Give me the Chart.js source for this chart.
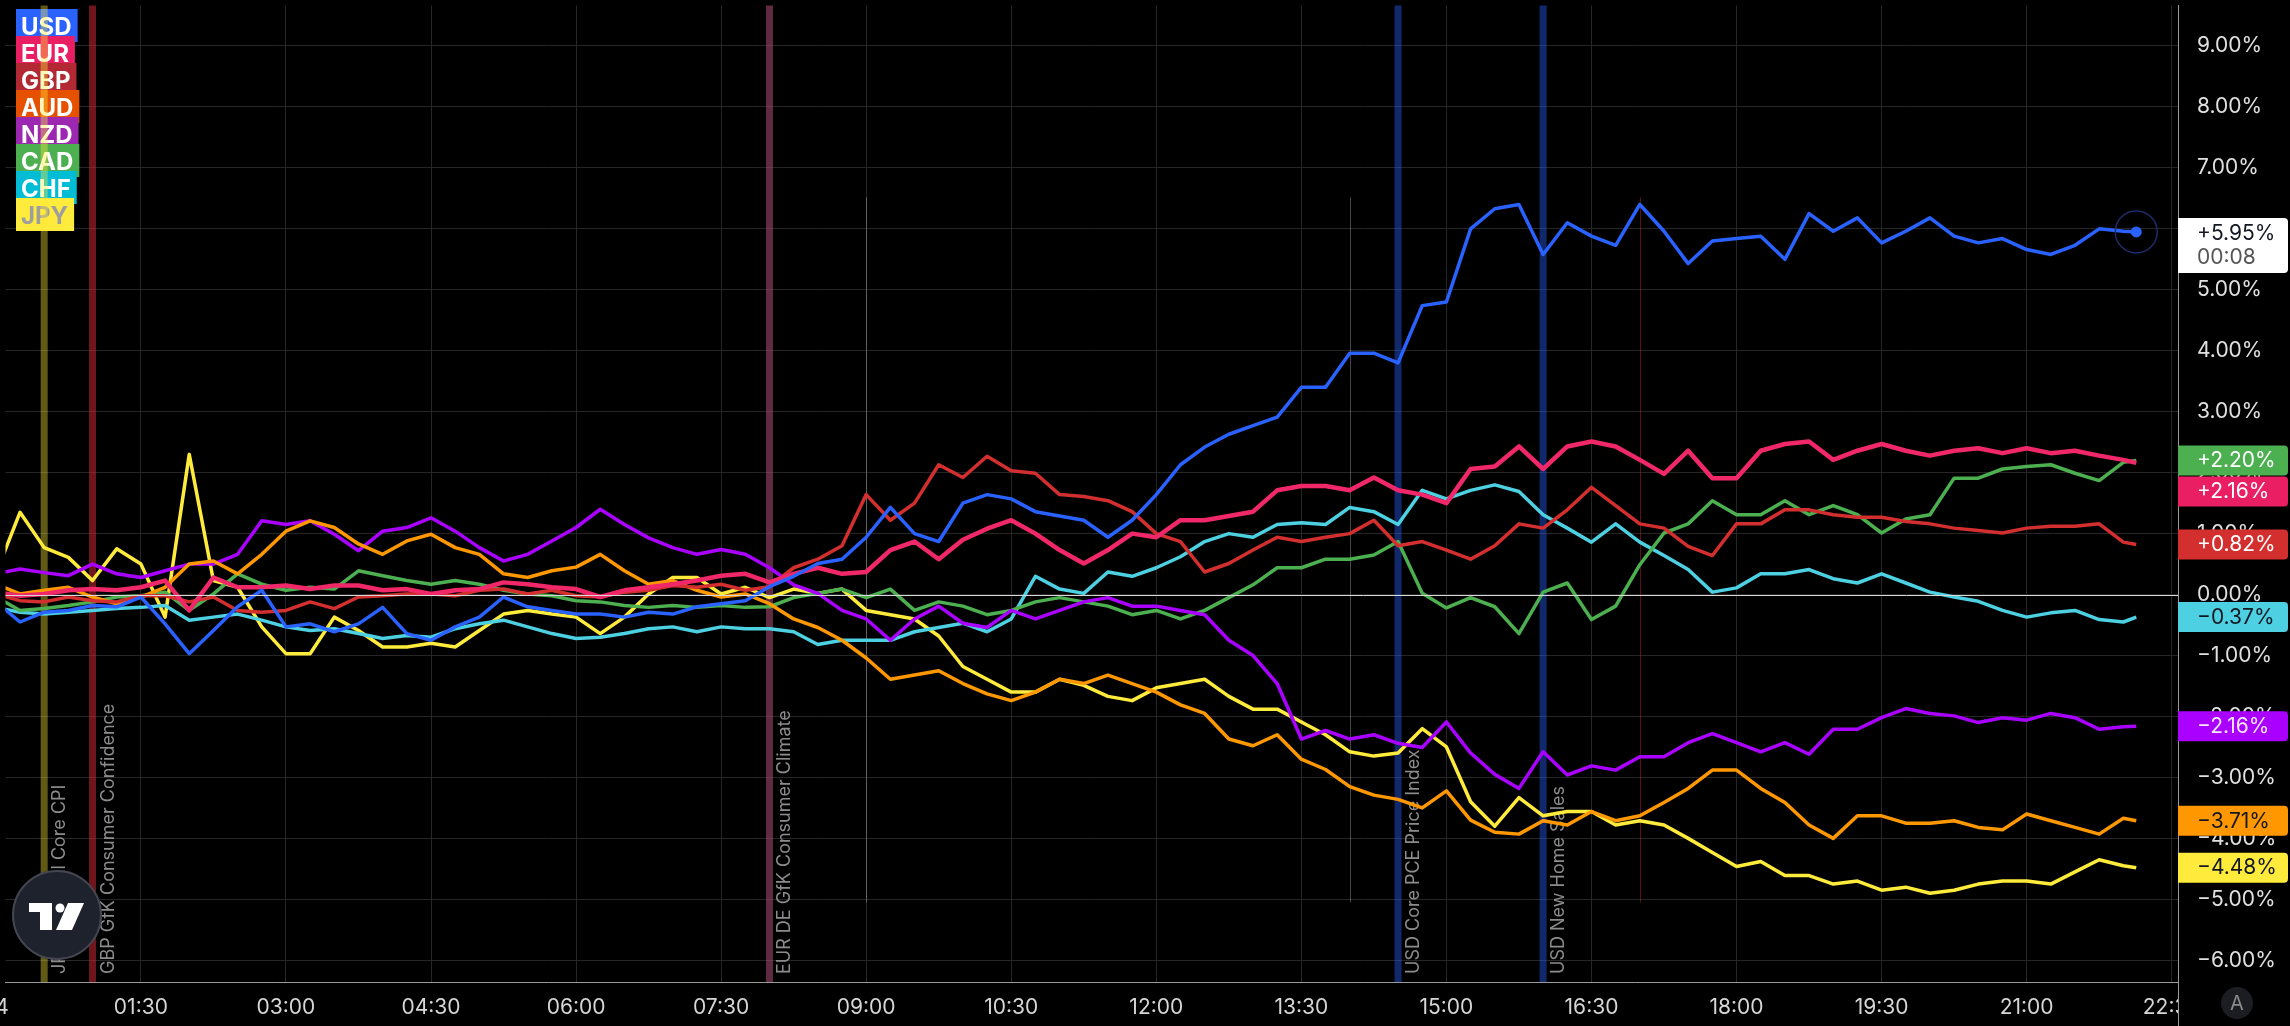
<!DOCTYPE html>
<html>
<head>
<meta charset="utf-8">
<script src="https://cdn.jsdelivr.net/npm/chart.js@4.4.0/dist/chart.umd.min.js"></script>
<style>
  html, body { margin: 0; padding: 0; background: #000; }
  #wrap { width: 2290px; height: 1026px; }
</style>
</head>
<body>
<div id="wrap"><canvas id="c" width="2290" height="1026"></canvas></div>
<script>
/* ─── data ─── */
const currencies = ['USD', 'EUR', 'GBP', 'AUD', 'NZD', 'CAD', 'CHF', 'JPY'];

const times = [
  '00:00','00:15','00:30','00:45','01:00','01:15','01:30','01:45',
  '02:00','02:15','02:30','02:45','03:00','03:15','03:30','03:45',
  '04:00','04:15','04:30','04:45','05:00','05:15','05:30','05:45',
  '06:00','06:15','06:30','06:45','07:00','07:15','07:30','07:45',
  '08:00','08:15','08:30','08:45','09:00','09:15','09:30','09:45',
  '10:00','10:15','10:30','10:45','11:00','11:15','11:30','11:45',
  '12:00','12:15','12:30','12:45','13:00','13:15','13:30','13:45',
  '14:00','14:15','14:30','14:45','15:00','15:15','15:30','15:45',
  '16:00','16:15','16:30','16:45','17:00','17:15','17:30','17:45',
  '18:00','18:15','18:30','18:45','19:00','19:15','19:30','19:45',
  '20:00','20:15','20:30','20:45','21:00','21:15','21:30','21:45',
  '22:00','22:08'
];

const usd = [
  -0.12, -0.45, -0.29, -0.26, -0.18, -0.20, -0.04, -0.48,
  -0.97, -0.59, -0.20, 0.07, -0.53, -0.48, -0.61, -0.48,
  -0.21, -0.64, -0.75, -0.53, -0.37, -0.04, -0.20, -0.26,
  -0.32, -0.32, -0.37, -0.29, -0.32, -0.20, -0.15, -0.10,
  0.13, 0.30, 0.51, 0.58, 0.94, 1.43, 1.00, 0.87,
  1.50, 1.64, 1.57, 1.36, 1.29, 1.22, 0.94, 1.22,
  1.64, 2.13, 2.42, 2.63, 2.77, 2.91, 3.40, 3.40,
  3.96, 3.96, 3.80, 4.74, 4.80, 6.00, 6.33, 6.40,
  5.58, 6.10, 5.88, 5.73, 6.40, 5.96, 5.43, 5.80,
  5.84, 5.88, 5.50, 6.25, 5.96, 6.18, 5.77, 5.96,
  6.18, 5.88, 5.77, 5.84, 5.66, 5.58, 5.73, 6.00,
  5.96, 5.95
];
const eur = [
  0.04, -0.02, 0.01, 0.07, 0.09, 0.07, 0.12, 0.23,
  -0.26, 0.28, 0.12, 0.12, 0.15, 0.09, 0.15, 0.15,
  0.07, 0.09, 0.01, 0.07, 0.09, 0.20, 0.17, 0.12,
  0.09, -0.04, 0.07, 0.12, 0.17, 0.23, 0.31, 0.34,
  0.20, 0.34, 0.44, 0.34, 0.37, 0.73, 0.87, 0.58,
  0.90, 1.08, 1.22, 1.00, 0.73, 0.51, 0.73, 1.00,
  0.94, 1.22, 1.22, 1.29, 1.36, 1.71, 1.78, 1.78,
  1.71, 1.92, 1.71, 1.64, 1.50, 2.06, 2.10, 2.43,
  2.06, 2.43, 2.51, 2.43, 2.21, 1.98, 2.36, 1.91,
  1.91, 2.36, 2.47, 2.51, 2.21, 2.36, 2.47, 2.36,
  2.28, 2.36, 2.40, 2.32, 2.40, 2.32, 2.36, 2.28,
  2.21, 2.16
];
const gbp = [
  0.01, -0.10, -0.12, -0.04, -0.10, -0.12, -0.02, -0.02,
  -0.12, -0.04, -0.26, -0.29, -0.26, -0.12, -0.23, -0.04,
  -0.02, 0.01, 0.01, -0.02, 0.07, 0.09, 0.01, 0.07,
  -0.02, -0.04, 0.04, 0.07, 0.15, 0.12, 0.17, 0.07,
  0.13, 0.44, 0.58, 0.80, 1.64, 1.22, 1.50, 2.13,
  1.92, 2.27, 2.03, 1.99, 1.64, 1.61, 1.54, 1.36,
  1.00, 0.87, 0.37, 0.51, 0.73, 0.94, 0.87, 0.94,
  1.00, 1.22, 0.80, 0.87, 0.73, 0.58, 0.80, 1.16,
  1.09, 1.39, 1.76, 1.46, 1.16, 1.09, 0.79, 0.64,
  1.16, 1.16, 1.39, 1.39, 1.31, 1.27, 1.27, 1.20,
  1.16, 1.09, 1.05, 1.01, 1.09, 1.12, 1.12, 1.16,
  0.86, 0.82
];
const aud = [
  0.17, 0.01, 0.07, 0.12, -0.04, -0.15, -0.04, 0.12,
  0.50, 0.55, 0.34, 0.66, 1.04, 1.21, 1.10, 0.83,
  0.66, 0.88, 0.99, 0.77, 0.66, 0.34, 0.28, 0.39,
  0.45, 0.66, 0.39, 0.17, 0.23, 0.07, -0.04, 0.01,
  -0.15, -0.40, -0.54, -0.75, -1.04, -1.39, -1.32, -1.25,
  -1.46, -1.63, -1.74, -1.60, -1.39, -1.46, -1.32, -1.46,
  -1.60, -1.81, -1.95, -2.37, -2.48, -2.30, -2.70, -2.87,
  -3.15, -3.29, -3.36, -3.50, -3.22, -3.70, -3.90, -3.93,
  -3.71, -3.78, -3.56, -3.71, -3.63, -3.41, -3.18, -2.88,
  -2.88, -3.18, -3.41, -3.78, -4.00, -3.63, -3.63, -3.75,
  -3.75, -3.71, -3.82, -3.86, -3.60, -3.71, -3.82, -3.93,
  -3.67, -3.71
];
const nzd = [
  0.34, 0.42, 0.36, 0.31, 0.50, 0.34, 0.28, 0.39,
  0.50, 0.50, 0.66, 1.21, 1.15, 1.21, 0.99, 0.72,
  1.04, 1.10, 1.26, 1.04, 0.77, 0.55, 0.66, 0.88,
  1.10, 1.40, 1.15, 0.93, 0.77, 0.66, 0.74, 0.66,
  0.44, 0.16, 0.02, -0.26, -0.40, -0.75, -0.40, -0.19,
  -0.47, -0.54, -0.26, -0.40, -0.26, -0.12, -0.05, -0.19,
  -0.19, -0.26, -0.33, -0.75, -1.00, -1.46, -2.37, -2.23,
  -2.37, -2.30, -2.44, -2.51, -2.09, -2.60, -2.95, -3.18,
  -2.58, -2.96, -2.81, -2.88, -2.66, -2.66, -2.43, -2.28,
  -2.43, -2.58, -2.43, -2.62, -2.21, -2.21, -2.02, -1.87,
  -1.95, -1.99, -2.10, -2.02, -2.06, -1.95, -2.02, -2.21,
  -2.17, -2.16
];
const cad = [
  -0.04, -0.26, -0.23, -0.18, -0.12, -0.04, -0.02, 0.04,
  -0.26, 0.01, 0.34, 0.17, 0.07, 0.12, 0.09, 0.39,
  0.31, 0.23, 0.17, 0.23, 0.17, 0.07, 0.01, -0.02,
  -0.10, -0.12, -0.18, -0.21, -0.18, -0.21, -0.18, -0.21,
  -0.20, -0.05, 0.02, 0.09, -0.05, 0.09, -0.26, -0.12,
  -0.19, -0.33, -0.26, -0.12, -0.05, -0.12, -0.19, -0.33,
  -0.26, -0.40, -0.26, -0.05, 0.16, 0.44, 0.44, 0.58,
  0.58, 0.65, 0.87, 0.02, -0.22, -0.05, -0.20, -0.64,
  0.04, 0.19, -0.41, -0.19, 0.49, 1.01, 1.16, 1.54,
  1.31, 1.31, 1.54, 1.31, 1.46, 1.31, 1.01, 1.24,
  1.31, 1.91, 1.91, 2.06, 2.10, 2.13, 1.99, 1.87,
  2.17, 2.20
];
const chf = [
  -0.21, -0.29, -0.32, -0.29, -0.26, -0.23, -0.21, -0.18,
  -0.42, -0.37, -0.32, -0.42, -0.53, -0.59, -0.56, -0.64,
  -0.72, -0.67, -0.70, -0.56, -0.48, -0.42, -0.53, -0.64,
  -0.72, -0.70, -0.64, -0.56, -0.53, -0.61, -0.53, -0.56,
  -0.56, -0.61, -0.82, -0.75, -0.75, -0.75, -0.61, -0.54,
  -0.47, -0.61, -0.40, 0.30, 0.09, 0.02, 0.37, 0.30,
  0.44, 0.62, 0.87, 1.00, 0.94, 1.15, 1.18, 1.15,
  1.43, 1.36, 1.15, 1.71, 1.57, 1.71, 1.80, 1.69,
  1.31, 1.09, 0.86, 1.16, 0.86, 0.64, 0.41, 0.04,
  0.11, 0.34, 0.34, 0.41, 0.26, 0.19, 0.34, 0.19,
  0.04, -0.04, -0.11, -0.26, -0.37, -0.30, -0.26, -0.41,
  -0.45, -0.37
];
const jpy = [
  0.34, 1.35, 0.77, 0.61, 0.23, 0.75, 0.50, -0.37,
  2.30, 0.23, 0.12, -0.53, -0.97, -0.97, -0.37, -0.59,
  -0.86, -0.86, -0.80, -0.86, -0.59, -0.32, -0.26, -0.32,
  -0.37, -0.64, -0.37, 0.01, 0.28, 0.28, 0.01, 0.12,
  -0.05, 0.09, 0.02, 0.09, -0.26, -0.33, -0.40, -0.68,
  -1.18, -1.39, -1.60, -1.60, -1.39, -1.49, -1.67, -1.74,
  -1.53, -1.46, -1.39, -1.67, -1.88, -1.88, -2.09, -2.30,
  -2.58, -2.65, -2.60, -2.20, -2.50, -3.40, -3.80, -3.33,
  -3.63, -3.56, -3.56, -3.78, -3.71, -3.78, -4.00, -4.23,
  -4.46, -4.38, -4.61, -4.61, -4.75, -4.70, -4.85, -4.80,
  -4.90, -4.85, -4.75, -4.70, -4.70, -4.75, -4.55, -4.35,
  -4.45, -4.48
];
const series = [usd, eur, gbp, aud, nzd, cad, chf, jpy];

const xTickHours = [0, 1.5, 3, 4.5, 6, 7.5, 9, 10.5, 12, 13.5, 15, 16.5, 18, 19.5, 21, 22.5];
const xTickLabels = ['24', '01:30', '03:00', '04:30', '06:00', '07:30', '09:00', '10:30',
  '12:00', '13:30', '15:00', '16:30', '18:00', '19:30', '21:00', '22:30'];
const yTicks = [-6, -5, -4, -3, -2, -1, 0, 1, 2, 3, 4, 5, 6, 7, 8, 9];

const eventTimes = ['00:30', '01:00', '08:00', '14:30', '16:00'];
const eventNames = ['JPY National Core CPI', 'GBP GfK Consumer Confidence',
  'EUR DE GfK Consumer Climate', 'USD Core PCE Price Index', 'USD New Home Sales'];
const sessionTimes = ['09:00', '14:00', '17:00'];
const sessionRange = [-5.05, 6.52];
const usdCountdown = '00:08';

/* ─── styles ─── */
const FONT = '"Inter", "Liberation Sans", sans-serif';
const lineColors = ['#2962FF', '#F0286A', '#D32F2F', '#FF9800', '#AA00FF', '#4CAF50', '#4DD0E1', '#FFEB3B'];
const legendColors = ['#2962FF', '#E91E63', '#B22833', '#E65100', '#9C27B0', '#4CAF50', '#00BCD4', '#FFEB3B'];
const legendText = ['#fff', '#fff', '#fff', '#fff', '#fff', '#fff', '#fff', '#9e9e9e'];
const priceBox = ['#ffffff', '#E91E63', '#D32F2F', '#FF9800', '#AA00FF', '#4CAF50', '#4DD0E1', '#FFEB3B'];
const priceText = ['#131722', '#fff', '#fff', '#131722', '#f5e6ff', '#fff', '#131722', '#131722'];
const eventColors = ['rgba(255,235,59,0.38)', 'rgba(200,40,50,0.55)', 'rgba(160,70,110,0.6)',
  'rgba(41,98,255,0.42)', 'rgba(41,98,255,0.42)'];
const sessionColors = ['rgba(255,255,255,0.28)', 'rgba(255,255,255,0.28)', 'rgba(200,40,40,0.45)'];

function toHours(t) {
  const p = t.split(':');
  return Number(p[0]) + Number(p[1]) / 60;
}

function fmtPct(v, signed) {
  const s = Math.abs(v).toFixed(2) + '%';
  if (v < 0) return '\u2212' + s;
  return (signed ? '+' : '') + s;
}

/* ─── drawings ─── */
const overlay = {
    id: 'overlay',
    beforeDraw(chart) {
        const ctx = chart.ctx;
        ctx.save();
        ctx.fillStyle = '#000';
        ctx.fillRect(0, 0, chart.width, chart.height);
        ctx.restore();
    },
    beforeDatasetsDraw(chart) {
        const { ctx, chartArea: a, scales: { x, y } } = chart;
        ctx.save();

        // thin session markers
        sessionTimes.forEach(function(t, i) {
            const px = Math.round(x.getPixelForValue(toHours(t))) + 0.5;
            ctx.strokeStyle = sessionColors[i];
            ctx.lineWidth = 1;
            ctx.beginPath();
            ctx.moveTo(px, y.getPixelForValue(sessionRange[1]));
            ctx.lineTo(px, y.getPixelForValue(sessionRange[0]));
            ctx.stroke();
        });

        // legend boxes
        ctx.font = 'bold 24px ' + FONT;
        ctx.textBaseline = 'alphabetic';
        currencies.forEach(function(c, i) {
            const base = 35 + i * 27;
            const w = ctx.measureText(c).width;
            ctx.fillStyle = legendColors[i];
            ctx.fillRect(16, base - 26, w + 11, 33);
            ctx.fillStyle = legendText[i];
            ctx.fillText(c, 21, base);
        });

        // event lines + labels
        eventTimes.forEach(function(t, i) {
            const px = x.getPixelForValue(toHours(t));
            ctx.fillStyle = eventColors[i];
            ctx.fillRect(px - 3.5, a.top, 7, a.bottom - a.top);
            ctx.save();
            ctx.translate(px + 21, a.bottom - 8);
            ctx.rotate(-Math.PI / 2);
            ctx.font = '18px ' + FONT;
            ctx.fillStyle = '#8c8c8c';
            ctx.textAlign = 'left';
            ctx.fillText(eventNames[i], 0, 0);
            ctx.restore();
        });
        ctx.restore();
    },
    afterDatasetsDraw(chart) {
        const { ctx, chartArea: a, scales: { y } } = chart;
        ctx.save();
        // zero line
        const zy = Math.round(y.getPixelForValue(0)) + 0.5;
        ctx.strokeStyle = '#d8d8d8';
        ctx.lineWidth = 1;
        ctx.beginPath();
        ctx.moveTo(a.left, zy);
        ctx.lineTo(a.right, zy);
        ctx.stroke();

        // ring around last USD point
        const pts = chart.getDatasetMeta(0).data;
        const last = pts[pts.length - 1];
        ctx.strokeStyle = '#1d2c6b';
        ctx.lineWidth = 1.5;
        ctx.beginPath();
        ctx.arc(last.x, last.y, 21, 0, Math.PI * 2);
        ctx.stroke();
        ctx.restore();
    },
    afterDraw(chart) {
        const { ctx, chartArea: a, scales: { y } } = chart;
        ctx.save();

        // hide the x labels under the price axis
        ctx.fillStyle = '#000';
        ctx.fillRect(a.right + 1, a.bottom + 1, chart.width - a.right, chart.height - a.bottom);
        ctx.strokeStyle = '#9a9a9a';
        ctx.lineWidth = 1;
        ctx.beginPath();
        ctx.moveTo(a.right + 0.5, a.bottom);
        ctx.lineTo(a.right + 0.5, chart.height);
        ctx.stroke();

        // price labels on the right axis
        const items = currencies.map(function(c, i) {
            const v = series[i][series[i].length - 1];
            return { i: i, v: v, py: y.getPixelForValue(v) };
        }).sort(function(p, q) { return p.py - q.py; });

        let prevBottom = -Infinity;
        ctx.font = '21px ' + FONT;
        ctx.textBaseline = 'middle';
        items.forEach(function(it) {
            const h = it.i === 0 ? 55 : 30;
            let top = it.py - (it.i === 0 ? 14 : 15);
            if (top < prevBottom + 1) top = prevBottom + 1;
            prevBottom = top + h;

            ctx.fillStyle = priceBox[it.i];
            ctx.beginPath();
            ctx.roundRect(a.right, top, 110, h, [0, 4, 4, 0]);
            ctx.fill();

            ctx.fillStyle = priceText[it.i];
            ctx.fillText(fmtPct(it.v, true), a.right + 19, top + 15.5);
            if (it.i === 0) {
                ctx.fillStyle = '#555';
                ctx.fillText(usdCountdown, a.right + 19, top + 40);
            }
        });

        // TradingView badge
        ctx.beginPath();
        ctx.arc(57, 915, 44, 0, Math.PI * 2);
        ctx.fillStyle = '#1e222d';
        ctx.fill();
        ctx.strokeStyle = '#434651';
        ctx.lineWidth = 2;
        ctx.stroke();
        ctx.fillStyle = '#fff';
        ctx.fillRect(29, 903, 23, 9);
        ctx.fillRect(40, 903, 12, 27);
        ctx.beginPath();
        ctx.arc(60, 908, 4.5, 0, Math.PI * 2);
        ctx.fill();
        ctx.beginPath();
        ctx.moveTo(68, 903);
        ctx.lineTo(84, 903);
        ctx.lineTo(72, 930);
        ctx.lineTo(56, 930);
        ctx.closePath();
        ctx.fill();

        // auto-scale button
        ctx.beginPath();
        ctx.arc(2237, 1003, 16, 0, Math.PI * 2);
        ctx.fillStyle = '#1c1d23';
        ctx.fill();
        ctx.fillStyle = '#8a8a8a';
        ctx.font = '20px ' + FONT;
        ctx.textAlign = 'center';
        ctx.fillText('A', 2237, 1004);
        ctx.restore();
    }
};

/* ─── chart ─── */
new Chart(document.getElementById('c'), {
    type: 'line',
    data: {
        datasets: currencies.map(function(c, i) {
            const vals = series[i];
            return {
                label: c,
                data: vals.map(function(v, j) { return { x: toHours(times[j]), y: v }; }),
                borderColor: lineColors[i],
                backgroundColor: lineColors[i],
                borderWidth: i === 1 ? 4.5 : 3.5,
                borderJoinStyle: 'round',
                tension: 0,
                fill: false,
                pointRadius: function(ctx) { return i === 0 && ctx.dataIndex === vals.length - 1 ? 5.5 : 0; },
                pointBorderWidth: 0,
                pointHoverRadius: 0,
            };
        })
    },
    options: {
        responsive: false,
        animation: false,
        devicePixelRatio: 1,
        events: [],
        layout: { padding: 0 },
        plugins: { legend: { display: false }, tooltip: { enabled: false } },
        scales: {
            x: {
                type: 'linear',
                min: 0.1,
                max: 22.565,
                afterBuildTicks: function(s) { s.ticks = xTickHours.map(function(v) { return { value: v }; }); },
                afterFit: function(s) { s.height = 44; s.paddingLeft = 0; s.paddingRight = 0; },
                grid: { color: '#262626', drawTicks: false },
                border: { color: '#9a9a9a' },
                ticks: {
                    autoSkip: false, maxRotation: 0, minRotation: 0, padding: 13,
                    color: '#d6d6d6', font: { family: FONT, size: 21 },
                    callback: function(v, i) { return xTickLabels[i]; }
                }
            },
            y: {
                position: 'right',
                min: -6.356,
                max: 9.664,
                afterBuildTicks: function(s) { s.ticks = yTicks.map(function(v) { return { value: v }; }); },
                afterFit: function(s) { s.width = 112; s.paddingTop = 0; s.paddingBottom = 0; },
                grid: { color: '#262626', drawTicks: false },
                border: { color: '#9a9a9a' },
                ticks: {
                    padding: 19, color: '#e0e0e0', font: { family: FONT, size: 21 },
                    callback: function(v) { return fmtPct(v, false); }
                }
            }
        }
    },
    plugins: [overlay]
});
</script>
</body>
</html>
